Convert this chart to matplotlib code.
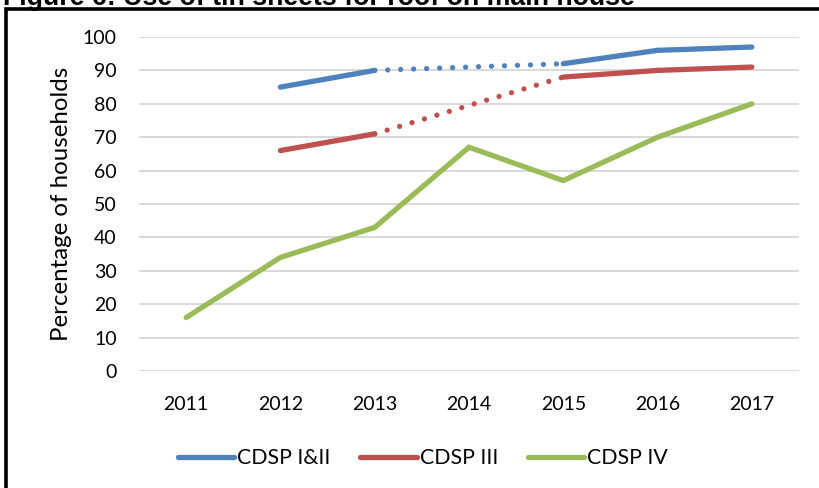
import matplotlib
matplotlib.use("Agg")
import matplotlib.pyplot as plt
from matplotlib.patches import Rectangle

# data
years = ["2011", "2012", "2013", "2014", "2015", "2016", "2017"]
cdsp12_years = ["2012", "2013", "2015", "2016", "2017"]
cdsp12 = [85, 90, 92, 96, 97]
cdsp3_years = ["2012", "2013", "2015", "2016", "2017"]
cdsp3 = [66, 71, 88, 90, 91]
cdsp4 = [16, 34, 43, 67, 57, 70, 80]

BLUE = "#4F81BD"
RED = "#C0504D"
GREEN = "#9BBB59"
GRID = "#D9D9D9"
TEXT = "#000000"

plt.rcParams["font.family"] = "Lato"

fig = plt.figure(figsize=(8.19, 4.88), dpi=100)
ax = fig.add_axes([139 / 819, 117 / 488, 660 / 819, 334 / 488])

pos = {y: i for i, y in enumerate(years)}
LW = 3.8
DOT = (0, (0.01, 2.45))


def draw_gapped(xs_lab, vals, color):
    xs = [pos[x] for x in xs_lab]
    # solid where consecutive years, dotted across the missing year
    for i in range(len(xs) - 1):
        ls = "-" if xs[i + 1] - xs[i] == 1 else DOT
        ax.plot(xs[i:i + 2], vals[i:i + 2], color=color, lw=LW, ls=ls,
                solid_capstyle="round", dash_capstyle="round", zorder=3)


draw_gapped(cdsp12_years, cdsp12, BLUE)
draw_gapped(cdsp3_years, cdsp3, RED)
ax.plot(range(len(years)), cdsp4, color=GREEN, lw=LW,
        solid_capstyle="round", solid_joinstyle="miter", zorder=3)

ax.set_xlim(-0.5, len(years) - 0.5)
ax.set_ylim(0, 100)
ax.set_yticks(range(0, 101, 10))
ax.set_xticks(range(len(years)))
ax.set_xticklabels(years)
ax.yaxis.grid(True, color=GRID, lw=1.4)
ax.set_axisbelow(True)
for s in ax.spines.values():
    s.set_visible(False)
ax.tick_params(length=0, labelsize=14, colors=TEXT)
ax.tick_params(axis="y", pad=16)
ax.tick_params(axis="x", pad=18)
ax.set_ylabel("Percentage of households", fontsize=17.3, labelpad=8)

# legend
handles = [plt.Line2D([], [], color=c, lw=LW, solid_capstyle="round")
           for c in (BLUE, RED, GREEN)]
fig.legend(handles, ["CDSP I&II", "CDSP III", "CDSP IV"], loc="center",
           bbox_to_anchor=(423 / 819, 1 - 458 / 488), ncol=3, frameon=False,
           fontsize=15.3, handlelength=2.65, handletextpad=0.14, columnspacing=1.4)

# clipped caption and outer frame
fig.text(3 / 819, 1 - 5 / 488, "Figure 6: Use of tin sheets for roof on main house",
         fontsize=19.3, fontweight="bold", family="Liberation Sans", va="baseline")
fig.patches.append(Rectangle((6 / 819, -0.1), 1.0, 1.1 - 9 / 488, transform=fig.transFigure,
                             fill=False, ec="black", lw=2.6))

fig.savefig("out.png", dpi=100, facecolor="white")
